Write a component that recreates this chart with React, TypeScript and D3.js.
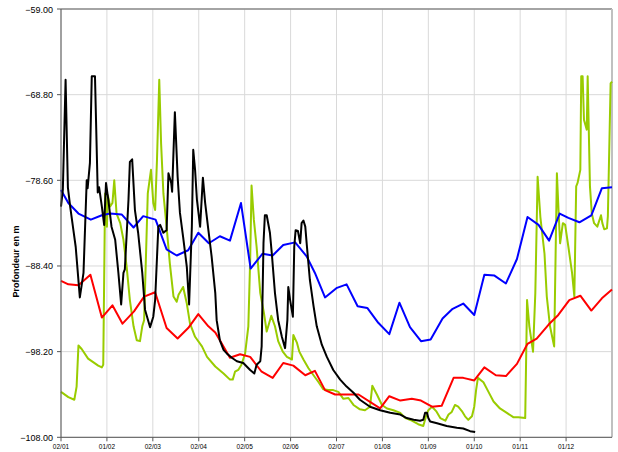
import * as d3 from "d3";

// month labels on the x axis (one per month, position = index)
const monthLabels = ["02/01", "01/02", "02/03", "02/04", "02/05", "02/06", "02/07", "01/08", "01/09", "01/10", "01/11", "01/12"];

// depth ticks
const depthTicks = [-59, -68.8, -78.6, -88.4, -98.2, -108];

// time in months since 02/01, depth in m
const blackT = [0, 0.04, 0.1, 0.15, 0.2, 0.27, 0.32, 0.41, 0.49, 0.56, 0.58, 0.63, 0.67, 0.74, 0.8, 0.83, 0.89, 0.94, 0.98, 1.03, 1.1, 1.18, 1.25, 1.31, 1.36, 1.39, 1.47, 1.5, 1.55, 1.61, 1.68, 1.77, 1.83, 1.94, 2.01, 2.05, 2.12, 2.16, 2.23, 2.3, 2.34, 2.4, 2.42, 2.48, 2.54, 2.59, 2.66, 2.74, 2.79, 2.85, 2.88, 2.92, 2.96, 3.03, 3.09, 3.14, 3.21, 3.28, 3.36, 3.39, 3.46, 3.54, 3.61, 3.72, 3.83, 3.97, 4.12, 4.21, 4.26, 4.34, 4.37, 4.41, 4.44, 4.48, 4.55, 4.59, 4.66, 4.73, 4.81, 4.88, 4.93, 4.95, 4.99, 5.05, 5.08, 5.11, 5.16, 5.21, 5.24, 5.28, 5.32, 5.35, 5.42, 5.5, 5.57, 5.68, 5.79, 5.93, 6.08, 6.22, 6.37, 6.51, 6.73, 6.95, 7.17, 7.39, 7.53, 7.68, 7.82, 7.89, 7.93, 7.97, 8.0, 8.04, 8.19, 8.4, 8.62, 8.76, 8.91, 9.02];
const blackD = [-81.6, -79.7, -67.1, -79.4, -81.6, -84.3, -86.2, -92.0, -89.2, -78.6, -79.5, -76.6, -66.7, -66.7, -80.0, -79.4, -81.6, -83.7, -78.9, -80.8, -83.9, -85.4, -89.2, -92.8, -89.2, -88.8, -80.8, -76.5, -76.2, -82.0, -84.6, -89.2, -93.4, -95.4, -94.2, -92.3, -83.9, -83.7, -84.6, -84.3, -77.8, -78.9, -79.9, -70.8, -78.2, -82.3, -85.1, -88.5, -92.8, -83.9, -75.1, -77.4, -80.8, -83.9, -78.3, -81.2, -84.3, -87.3, -91.5, -94.6, -96.9, -98.0, -98.4, -98.9, -99.3, -99.5, -100.3, -100.7, -99.7, -99.3, -97.6, -85.8, -82.6, -82.6, -84.6, -86.9, -91.5, -94.6, -96.5, -97.8, -94.6, -90.8, -92.3, -94.2, -86.2, -84.3, -84.4, -85.8, -83.5, -83.2, -83.9, -85.8, -90.0, -93.0, -95.3, -97.4, -98.8, -100.3, -101.4, -102.2, -102.9, -103.7, -104.5, -104.9, -105.2, -105.4, -105.8, -106.0, -106.1, -106.0, -105.2, -105.2, -105.8, -106.2, -106.4, -106.7, -106.9, -107.0, -107.3, -107.4];

const blueT = [0, 0.16, 0.38, 0.65, 0.89, 1.07, 1.32, 1.58, 1.79, 2.06, 2.3, 2.52, 2.77, 2.99, 3.22, 3.46, 3.68, 3.92, 4.13, 4.39, 4.61, 4.84, 5.1, 5.35, 5.53, 5.75, 6.01, 6.22, 6.46, 6.67, 6.91, 7.15, 7.37, 7.6, 7.84, 8.05, 8.31, 8.53, 8.76, 9.0, 9.22, 9.44, 9.69, 9.93, 10.16, 10.4, 10.63, 10.86, 11.05, 11.29, 11.55, 11.78, 12.0];
const blueD = [-79.7, -81.2, -82.4, -83.1, -82.6, -82.4, -82.5, -84.0, -82.7, -83.1, -86.5, -87.2, -86.6, -84.6, -85.8, -85.0, -85.5, -81.2, -88.7, -87.0, -87.2, -86.0, -85.7, -87.3, -89.2, -92.0, -90.9, -90.5, -93.0, -93.2, -94.9, -96.2, -92.6, -95.4, -97.0, -96.8, -94.4, -93.3, -92.7, -94.0, -89.4, -89.5, -90.4, -87.6, -82.8, -83.7, -85.5, -82.4, -82.9, -83.4, -82.6, -79.5, -79.4];

const redT = [0, 0.16, 0.38, 0.64, 0.89, 1.12, 1.34, 1.59, 1.81, 2.05, 2.3, 2.54, 2.77, 2.99, 3.21, 3.36, 3.46, 3.68, 3.9, 4.12, 4.37, 4.61, 4.84, 5.06, 5.32, 5.53, 5.75, 5.97, 6.26, 6.48, 6.95, 7.15, 7.39, 7.64, 7.84, 8.08, 8.29, 8.55, 8.76, 9.0, 9.22, 9.47, 9.69, 9.93, 10.16, 10.36, 10.62, 10.83, 11.07, 11.31, 11.55, 11.78, 12.0];
const redD = [-90.1, -90.5, -90.6, -89.4, -94.3, -92.9, -95.0, -93.6, -91.9, -91.4, -95.5, -96.7, -95.5, -93.9, -95.3, -96.0, -96.9, -98.9, -98.5, -98.8, -100.5, -101.2, -99.5, -99.8, -100.9, -100.4, -102.6, -103.1, -103.1, -103.1, -104.7, -103.3, -103.8, -103.6, -103.8, -104.5, -104.4, -101.2, -101.2, -101.5, -100.0, -100.9, -101.0, -99.6, -97.3, -96.7, -95.1, -94.0, -92.3, -91.8, -93.5, -92.1, -91.1];

const greenT = [0, 0.16, 0.29, 0.34, 0.38, 0.45, 0.59, 0.7, 0.81, 0.89, 0.92, 0.96, 1.0, 1.02, 1.07, 1.12, 1.16, 1.21, 1.29, 1.36, 1.43, 1.5, 1.58, 1.65, 1.72, 1.77, 1.81, 1.89, 1.96, 2.01, 2.05, 2.09, 2.14, 2.18, 2.23, 2.3, 2.37, 2.45, 2.52, 2.56, 2.66, 2.74, 2.81, 2.92, 3.07, 3.18, 3.36, 3.54, 3.68, 3.74, 3.79, 3.86, 3.93, 4.01, 4.08, 4.12, 4.15, 4.2, 4.26, 4.34, 4.42, 4.48, 4.58, 4.66, 4.73, 4.83, 4.92, 5.03, 5.06, 5.14, 5.19, 5.28, 5.39, 5.5, 5.61, 5.71, 5.82, 5.93, 6.04, 6.15, 6.26, 6.37, 6.51, 6.62, 6.73, 6.78, 6.88, 6.99, 7.1, 7.24, 7.39, 7.5, 7.64, 7.78, 7.89, 7.95, 8.0, 8.08, 8.17, 8.26, 8.37, 8.44, 8.51, 8.58, 8.65, 8.73, 8.8, 8.87, 8.95, 9.0, 9.04, 9.08, 9.2, 9.31, 9.42, 9.56, 9.71, 9.85, 9.96, 10.11, 10.15, 10.2, 10.28, 10.33, 10.38, 10.44, 10.53, 10.58, 10.65, 10.74, 10.8, 10.84, 10.87, 10.93, 10.98, 11.05, 11.13, 11.18, 11.22, 11.25, 11.31, 11.33, 11.36, 11.39, 11.45, 11.47, 11.52, 11.56, 11.61, 11.68, 11.76, 11.79, 11.83, 11.89, 11.91, 11.97, 12.0];
const greenD = [-102.8, -103.4, -103.7, -102.2, -97.5, -97.9, -99.0, -99.4, -99.8, -100.0, -99.7, -80.1, -83.9, -80.3, -81.6, -81.2, -78.6, -82.4, -83.5, -85.4, -88.5, -92.3, -95.3, -96.9, -97.0, -95.3, -94.6, -80.1, -77.4, -81.2, -82.0, -76.3, -67.1, -74.4, -80.1, -83.9, -88.1, -91.9, -92.5, -91.7, -90.8, -92.7, -95.0, -96.5, -97.6, -98.8, -99.9, -100.7, -101.4, -101.4, -100.5, -100.3, -99.7, -98.4, -95.3, -87.7, -79.2, -83.1, -86.2, -91.5, -93.8, -95.9, -94.1, -95.3, -97.0, -98.2, -98.8, -99.1, -96.3, -97.2, -98.2, -99.1, -100.1, -100.9, -101.7, -102.5, -102.6, -102.6, -102.8, -103.6, -103.5, -104.3, -104.8, -104.9, -104.5, -102.1, -103.1, -104.3, -104.7, -104.9, -105.2, -105.8, -106.1, -106.5, -106.7, -105.6, -104.9, -104.5, -105.0, -105.8, -106.1, -105.4, -105.1, -104.3, -104.5, -105.0, -105.6, -106.0, -105.6, -104.5, -102.6, -101.2, -101.7, -102.8, -103.9, -104.7, -105.2, -105.7, -105.7, -105.8, -92.3, -95.3, -98.2, -91.5, -78.2, -82.8, -87.0, -91.9, -95.3, -97.6, -77.8, -82.6, -85.8, -83.5, -83.7, -86.2, -89.2, -91.9, -79.3, -78.9, -77.4, -66.7, -66.7, -71.7, -72.8, -66.7, -79.3, -82.4, -83.5, -83.9, -82.6, -83.5, -84.2, -84.1, -82.7, -67.5, -67.3];

const series = [
  { t: greenT, d: greenD, color: "#99cc00" },
  { t: redT, d: redD, color: "#ff0000" },
  { t: blueT, d: blueD, color: "#0000ff" },
  { t: blackT, d: blackD, color: "#000000" },
];

const width = 618;
const height = 452;
const left = 61;
const right = 612;
const top = 9;
const bottom = 437.3;

export default function App() {
  const x = d3.scaleLinear().domain([0, 12]).range([left, right]);
  const y = d3.scaleLinear().domain([-108, -59]).range([bottom, top]);
  const line = d3
    .line<number>()
    .x((_, i, arr) => 0)
    .y(() => 0);

  const path = (t: number[], d: number[]) =>
    d3
      .line<[number, number]>()
      .x((p) => x(p[0]))
      .y((p) => y(p[1]))(t.map((v, i) => [v, d[i]] as [number, number]));

  return (
    <svg
      width={width}
      height={height}
      style={{ position: "absolute", left: 0, top: 0, background: "#fff" }}
      fontFamily="'Liberation Sans', Arial, sans-serif"
    >
      {/* grid */}
      {depthTicks.map((v) => (
        <line key={"h" + v} x1={left} x2={right} y1={y(v)} y2={y(v)} stroke="#d9d9d9" strokeWidth={1} />
      ))}
      {monthLabels.map((m, i) => (
        <line key={"v" + m} x1={x(i)} x2={x(i)} y1={top} y2={bottom} stroke="#d9d9d9" strokeWidth={1} />
      ))}
      {/* frame */}
      <line x1={left} x2={right} y1={top} y2={top} stroke="#8c8c8c" strokeWidth={1.5} />
      <line x1={right} x2={right} y1={top} y2={bottom} stroke="#c0c0c0" strokeWidth={2} />

      {/* series */}
      {series.map((s) => (
        <path
          key={s.color}
          d={path(s.t, s.d) || ""}
          fill="none"
          stroke={s.color}
          strokeWidth={2}
          strokeLinejoin="round"
        />
      ))}

      {/* y axis */}
      <line x1={left} x2={left} y1={top} y2={bottom} stroke="#555" strokeWidth={1} />
      {depthTicks.map((v) => (
        <g key={"yt" + v}>
          <line x1={left - 4} x2={left} y1={y(v)} y2={y(v)} stroke="#555" />
          <text x={53} y={y(v) + 3.5} textAnchor="end" fontSize={9} fill="#000">
            {d3.format(".2f")(v)}
          </text>
        </g>
      ))}
      <text
        transform={`translate(18.5,${261.5}) rotate(-90)`}
        textAnchor="middle"
        fontSize={9}
        fontWeight="bold"
        fill="#000"
      >
        Profondeur en m
      </text>

      {/* x axis */}
      <line x1={left} x2={right} y1={bottom} y2={bottom} stroke="#555" strokeWidth={1} />
      {monthLabels.map((m, i) => (
        <g key={"xt" + m}>
          <line x1={x(i)} x2={x(i)} y1={bottom} y2={bottom + 4} stroke="#555" />
          <text x={x(i)} y={449} textAnchor="middle" fontSize={6.5} fill="#000">
            {m}
          </text>
        </g>
      ))}
    </svg>
  );
}
